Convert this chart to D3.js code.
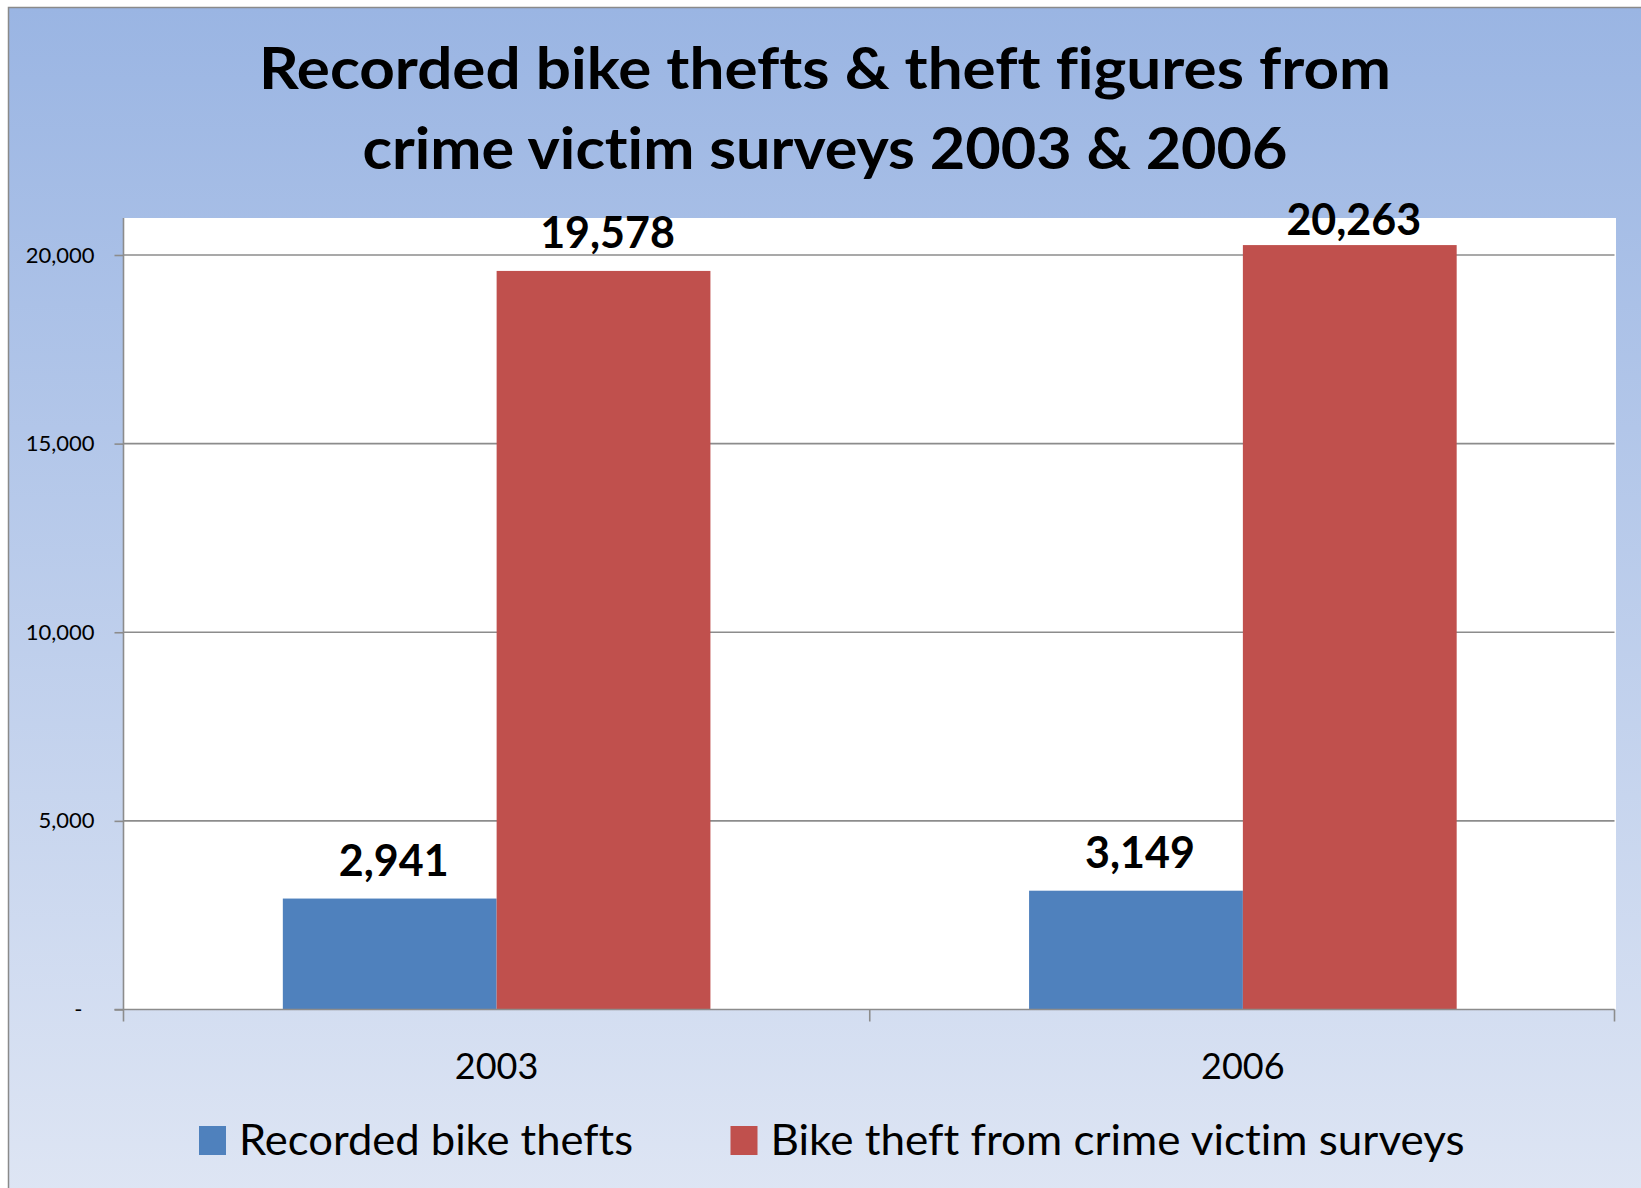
<!DOCTYPE html>
<html>
<head>
<meta charset="utf-8">
<script src="https://cdn.jsdelivr.net/npm/d3@7"></script>
<style>
	body { margin: 0; background: #fff; }
	svg { display: block; font-family: Lato, "Open Sans", sans-serif; font-variant-ligatures: none; font-feature-settings: "liga" 0, "clig" 0; }
</style>
</head>
<body>
<div id="chart-container"></div>
<script>
// chart data
var years = ["2003", "2006"]
var seriesNames = ["Recorded bike thefts", "Bike theft from crime victim surveys"]
var recorded = [2941, 3149]
var surveys = [19578, 20263]
var yTicks = [0, 5000, 10000, 15000, 20000]
var titleLines = ["Recorded bike thefts & theft figures from", "crime victim surveys 2003 & 2006"]

var chart = {}
chart.width = 1641
chart.height = 1188
chart.plot = { left: 123.5, right: 1616, top: 218, bottom: 1009.5 }
chart.colors = ["#4f81bd", "#c0504d"]

chart.svg = d3.select("#chart-container")
	.append("svg")
	.attr("width", chart.width)
	.attr("height", chart.height)

var defs = chart.svg.append("defs")
var grad = defs.append("linearGradient")
	.attr("id", "bg-grad")
	.attr("x1", 0).attr("y1", 0).attr("x2", 0).attr("y2", 1)
grad.append("stop").attr("offset", "0%").attr("stop-color", "#9ab5e3")
grad.append("stop").attr("offset", "100%").attr("stop-color", "#dfe6f4")

// frame (runs off the right and bottom edge like the original)
chart.svg.append("rect")
	.attr("x", 8.5).attr("y", 7.5)
	.attr("width", chart.width + 20)
	.attr("height", chart.height + 20)
	.attr("fill", "url(#bg-grad)")
	.attr("stroke", "#8a8a8a")
	.attr("stroke-width", 1.5)

// plot area
chart.svg.append("rect")
	.attr("x", chart.plot.left)
	.attr("y", chart.plot.top)
	.attr("width", chart.plot.right - chart.plot.left)
	.attr("height", chart.plot.bottom - chart.plot.top)
	.attr("fill", "#ffffff")

var x0 = d3.scaleBand()
	.domain(years)
	.range([chart.plot.left, chart.plot.right])
	.paddingInner(0.427)
	.paddingOuter(0.2135)

var x1 = d3.scaleBand()
	.domain([0, 1])
	.range([0, x0.bandwidth()])

var y = d3.scaleLinear()
	.domain([0, 20000])
	.range([chart.plot.bottom, 255])

// gridlines
chart.svg.append("g")
	.selectAll("line")
	.data(yTicks.slice(1))
	.enter()
	.append("line")
	.attr("x1", chart.plot.left)
	.attr("x2", chart.plot.right - 1.5)
	.attr("y1", function(d){ return y(d) })
	.attr("y2", function(d){ return y(d) })
	.attr("stroke", "#8c8c8c")
	.attr("stroke-width", 1.6)

// y axis
var yAxis = d3.axisLeft(y)
	.tickValues(yTicks)
	.tickSize(9)
	.tickPadding(20)
	.tickFormat(function(d){ return d === 0 ? "-" : d3.format(",")(d) })

var yG = chart.svg.append("g")
	.attr("transform", "translate(" + chart.plot.left + ",0)")
	.call(yAxis)
yG.select(".domain").remove()
yG.selectAll(".tick line").attr("stroke", "#8c8c8c").attr("stroke-width", 1.6)
yG.selectAll(".tick text")
	.attr("font-size", 22)
	.attr("font-family", "Lato")
	.attr("fill", "#000")
	.attr("dx", function(d){ return d === 0 ? -12 : 0 })

chart.svg.append("line")
	.attr("x1", chart.plot.left).attr("x2", chart.plot.left)
	.attr("y1", chart.plot.top).attr("y2", chart.plot.bottom + 12)
	.attr("stroke", "#8c8c8c")
	.attr("stroke-width", 1.6)

// bars
var seriesValues = [recorded, surveys]
chart.groups = chart.svg.append("g")
	.selectAll("g")
	.data(years)
	.enter()
	.append("g")
	.attr("transform", function(d){ return "translate(" + x0(d) + ",0)" })

chart.groups.selectAll("rect")
	.data(function(d, i){
		return seriesValues.map(function(s, j){ return { s: j, v: s[i] } })
	})
	.enter()
	.append("rect")
	.attr("x", function(d){ return x1(d.s) })
	.attr("width", x1.bandwidth())
	.attr("y", function(d){ return y(d.v) })
	.attr("height", function(d){ return y(0) - y(d.v) })
	.attr("fill", function(d){ return chart.colors[d.s] })

chart.groups.selectAll("text.val")
	.data(function(d, i){
		return seriesValues.map(function(s, j){ return { s: j, v: s[i] } })
	})
	.enter()
	.append("text")
	.attr("class", "val")
	.attr("x", function(d){ return x1(d.s) + x1.bandwidth() / 2 + 4 })
	.attr("y", function(d){ return Math.max(y(d.v) - 23, 235) })
	.attr("text-anchor", "middle")
	.attr("font-size", 43)
	.attr("font-weight", "bold")
	.text(function(d){ return d3.format(",")(d.v) })

// x axis
chart.svg.append("line")
	.attr("x1", chart.plot.left - 9).attr("x2", chart.plot.right - 1.5)
	.attr("y1", chart.plot.bottom).attr("y2", chart.plot.bottom)
	.attr("stroke", "#8c8c8c")
	.attr("stroke-width", 1.6)

var xEdges = [chart.plot.left + x0.step() * 1, chart.plot.right - 1.5]
chart.svg.append("g")
	.selectAll("line")
	.data(xEdges)
	.enter()
	.append("line")
	.attr("x1", function(d){ return d }).attr("x2", function(d){ return d })
	.attr("y1", chart.plot.bottom).attr("y2", chart.plot.bottom + 12)
	.attr("stroke", "#8c8c8c")
	.attr("stroke-width", 1.6)

chart.svg.append("g")
	.selectAll("text")
	.data(years)
	.enter()
	.append("text")
	.attr("x", function(d){ return x0(d) + x0.bandwidth() / 2 })
	.attr("y", 1079)
	.attr("text-anchor", "middle")
	.attr("font-size", 36)
	.text(function(d){ return d })

// title
var titleWidths = [1132, 925]
chart.svg.append("g")
	.selectAll("text")
	.data(titleLines)
	.enter()
	.append("text")
	.attr("x", 825)
	.attr("y", function(d, i){ return 89 + i * 80 })
	.attr("text-anchor", "middle")
	.attr("font-size", 58)
	.attr("font-weight", "bold")
	.attr("textLength", function(d, i){ return titleWidths[i] })
	.attr("lengthAdjust", "spacingAndGlyphs")
	.text(function(d){ return d })

// legend
var legendX = [199, 730.5]
var legendTextW = [394, 694]
var legend = chart.svg.append("g")
	.selectAll("g")
	.data(seriesNames)
	.enter()
	.append("g")
	.attr("transform", function(d, i){ return "translate(" + legendX[i] + ",1126)" })

legend.append("rect")
	.attr("width", 27)
	.attr("height", 29)
	.attr("fill", function(d, i){ return chart.colors[i] })

legend.append("text")
	.attr("x", 40)
	.attr("y", 29)
	.attr("font-size", 43)
	.attr("textLength", function(d, i){ return legendTextW[i] })
	.attr("lengthAdjust", "spacingAndGlyphs")
	.text(function(d){ return d })
</script>
</body>
</html>
